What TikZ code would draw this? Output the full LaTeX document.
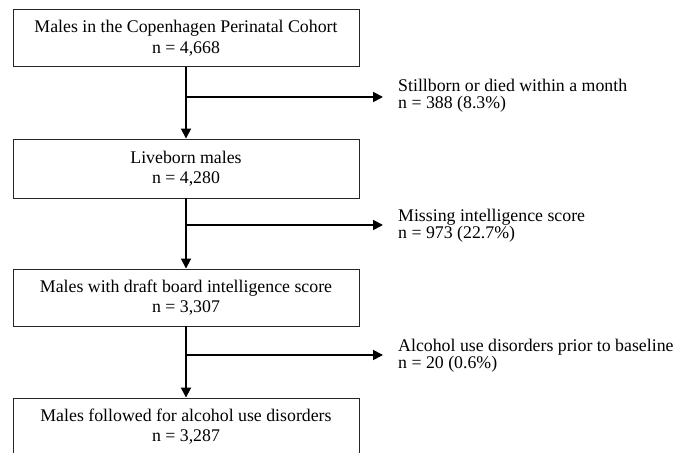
\documentclass[tikz,border=0pt]{standalone}
\usepackage{fontspec}
\setmainfont{Liberation Serif}
\usetikzlibrary{arrows.meta}
\begin{document}
\begin{tikzpicture}[x=1pt,y=1pt,
  box/.style={draw=black!85, line width=0.9pt, minimum width=346pt, minimum height=57pt, align=center, font=\fontsize{17.8}{20.5}\selectfont, inner sep=0pt},
  side/.style={anchor=west, align=left, font=\fontsize{17.8}{17}\selectfont, inner sep=0pt},
  flow/.style={line width=1.8pt, -{Triangle[length=10pt,width=10pt]}}]
\clip (0,0) rectangle (676,452);
\useasboundingbox (0,0) rectangle (676,452);
\node[box] (b1) at (186,414) {Males in the Copenhagen Perinatal Cohort\\ n = 4,668};
\node[box, minimum height=59pt] (b2) at (186,283.5) {Liveborn males\\ n = 4,280};
\node[box] (b3) at (186,154.5) {Males with draft board intelligence score\\ n = 3,307};
\node[box] (b4) at (186,25.5) {Males followed for alcohol use disorders\\ n = 3,287};
\node[side] (s1) at (398,356) {Stillborn or died within a month\\ n = 388 (8.3\%)};
\node[side] (s2) at (398,226) {Missing intelligence score\\ n = 973 (22.7\%)};
\node[side] (s3) at (398,96) {Alcohol use disorders prior to baseline\\ n = 20 (0.6\%)};
\coordinate (j1) at (186,355);
\coordinate (j2) at (186,227);
\coordinate (j3) at (186,97);
\coordinate (e1) at (383,355);
\coordinate (e2) at (383,227);
\coordinate (e3) at (383,97);
\draw[flow] (b1.south) -- (b2.north);
\draw[flow] (b2.south) -- (b3.north);
\draw[flow] (b3.south) -- (b4.north);
\draw[flow] (j1) -- (e1);
\draw[flow] (j2) -- (e2);
\draw[flow] (j3) -- (e3);
\end{tikzpicture}
\end{document}
